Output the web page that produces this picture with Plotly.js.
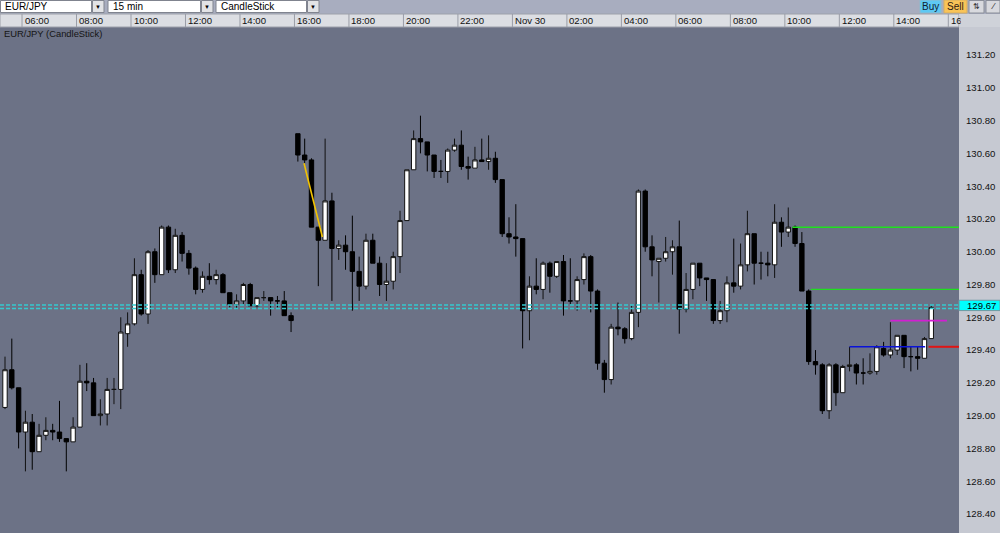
<!DOCTYPE html>
<html>
<head>
<meta charset="utf-8">
<script src="https://cdn.plot.ly/plotly-3.0.1.min.js"></script>
<style>
html,body{margin:0;padding:0;background:#a8adbf;overflow:hidden;}
#chart{width:1000px;height:533px;}
</style>
</head>
<body>
<div id="chart"></div>
<script>
// ---------------- data ----------------
const symbol = "EUR/JPY";
const intervalName = "15 min";
const chartType = "CandleStick";

const openP = [129.05,129.28,129.17,128.90,128.96,128.78,128.88,128.91,128.90,128.86,
128.84,128.93,129.21,129.20,129.00,129.01,129.16,129.16,129.50,129.56,
129.86,129.62,130.00,129.86,130.15,129.89,130.10,129.99,129.90,129.77,
129.85,129.83,129.86,129.75,129.68,129.70,129.80,129.67,129.72,129.72,
129.70,129.70,129.61,130.72,130.59,130.56,130.15,130.07,130.31,130.02,
130.04,130.00,129.88,129.79,130.07,129.93,129.80,129.82,129.97,130.19,
130.50,130.69,130.67,130.59,130.49,130.49,130.62,130.65,130.52,130.51,
130.56,130.55,130.57,130.44,130.11,130.09,130.08,129.64,129.79,129.77,
129.93,129.85,129.94,129.70,129.70,129.83,129.97,129.76,129.32,129.22,
129.54,129.53,129.47,129.63,130.37,130.03,129.94,129.96,130.00,130.03,
129.65,129.77,129.93,129.84,129.83,129.58,129.64,129.81,129.79,129.92,
130.11,129.93,129.93,129.92,130.18,130.12,130.15,130.05,129.76,129.33,
129.31,129.03,129.31,129.14,129.30,129.31,129.26,129.26,129.27,129.41,
129.37,129.40,129.49,129.36,129.36,129.35,129.47];
const highP = [129.36,129.47,129.17,129.03,129.01,128.95,128.99,128.95,129.09,128.86,
128.99,129.31,129.32,129.23,129.10,129.23,129.23,129.60,129.63,129.96,
129.89,130.01,130.02,130.16,130.16,130.14,130.12,130.01,129.91,129.88,
129.93,129.89,129.87,129.75,129.74,129.81,129.81,129.72,129.76,129.72,
129.73,129.76,129.63,130.72,130.69,130.57,130.15,130.69,130.36,130.07,
130.10,130.22,129.97,130.11,130.11,129.97,129.93,130.00,130.25,130.50,
130.74,130.83,130.67,130.59,130.56,130.63,130.69,130.74,130.58,130.64,
130.69,130.71,130.61,130.44,130.21,130.29,130.08,129.85,129.96,129.94,
129.94,129.94,129.98,129.96,129.85,129.99,129.98,129.77,129.34,129.56,
129.69,129.54,129.67,130.38,130.38,130.10,129.96,130.09,130.07,130.19,
129.87,129.93,129.93,129.84,129.83,129.70,129.85,130.08,130.05,130.25,
130.11,130.00,130.00,130.29,130.21,130.27,130.16,130.12,129.77,129.40,
129.32,129.32,129.32,129.31,129.42,129.32,129.35,129.38,129.43,129.45,
129.57,129.49,129.49,129.42,129.42,129.48,129.67];
const lowP = [129.04,129.16,128.80,128.66,128.67,128.78,128.85,128.85,128.84,128.66,
128.84,128.93,129.15,129.00,128.94,128.94,129.07,129.04,129.42,129.55,
129.61,129.56,129.81,129.86,129.87,129.87,129.94,129.86,129.74,129.75,
129.80,129.80,129.75,129.66,129.65,129.68,129.67,129.66,129.70,129.61,
129.66,129.61,129.51,130.55,130.54,130.15,129.79,130.07,129.70,129.95,
129.89,129.64,129.70,129.77,129.93,129.73,129.70,129.77,129.87,130.19,
130.50,130.60,130.49,130.45,130.45,130.42,130.61,130.50,130.44,130.51,
130.55,130.50,130.42,130.09,130.05,129.97,129.41,129.46,129.74,129.71,
129.75,129.84,129.61,129.68,129.64,129.80,129.63,129.28,129.14,129.19,
129.49,129.44,129.46,129.54,130.00,129.85,129.69,129.94,129.86,129.50,
129.63,129.71,129.79,129.70,129.56,129.56,129.57,129.75,129.77,129.88,
129.80,129.83,129.85,129.84,130.03,130.09,130.03,129.76,129.31,129.25,
129.01,128.98,129.06,129.14,129.27,129.19,129.19,129.25,129.25,129.36,
129.35,129.37,129.29,129.27,129.28,129.35,129.47];
const closeP = [129.28,129.17,128.90,128.96,128.78,128.88,128.91,128.90,128.86,128.84,
128.93,129.21,129.20,129.00,129.01,129.16,129.16,129.51,129.56,129.86,
129.62,130.00,129.86,130.15,129.89,130.10,129.99,129.90,129.77,129.85,
129.83,129.86,129.75,129.68,129.70,129.80,129.67,129.72,129.72,129.70,
129.70,129.61,129.58,130.59,130.56,130.15,130.07,130.31,130.02,130.04,
130.00,129.88,129.79,130.07,129.93,129.80,129.82,129.97,130.19,130.50,
130.69,130.67,130.59,130.49,130.49,130.62,130.65,130.52,130.51,130.56,
130.55,130.57,130.44,130.11,130.09,130.08,129.64,129.79,129.77,129.93,
129.85,129.94,129.70,129.70,129.83,129.97,129.76,129.32,129.22,129.54,
129.53,129.47,129.63,130.37,130.03,129.95,129.96,130.00,130.03,129.65,
129.77,129.93,129.84,129.83,129.58,129.64,129.81,129.79,129.92,130.11,
129.93,129.93,129.92,130.18,130.12,130.15,130.05,129.76,129.33,129.31,
129.03,129.31,129.14,129.30,129.31,129.26,129.26,129.27,129.42,129.37,
129.40,129.49,129.36,129.36,129.35,129.47,129.66];

// time axis labels and the candle (bar number) each label period starts at
const timeLabels = ["06:00","08:00","10:00","12:00","14:00","16:00","18:00","20:00","22:00",
  "Nov 30","02:00","04:00","06:00","08:00","10:00","12:00","14:00","16:00"];
const timeLabelCandle = [3,11,19,27,35,43,51,59,67,75,83,91,99,107,115,123,131,139];

// price levels drawn on the chart
const bidPrice = 129.67;
const bidLinePrice = 129.675;
const askLinePrice = 129.653;
const levelNames  = ["green1","green2","magenta","blue","red"];
const levelPrices = [130.15, 129.77, 129.58, 129.42, 129.42];
const levelStartBar = [115.6, 118.3, 130.0, 124.0, 135.6];
const levelEndBar   = [null, null, 138.3, 135.1, null];   // null = to the right edge
const trendBars   = [43.9, 46.6];
const trendPrices = [130.54, 130.09];

// ---------------- styles ----------------
const levelStyle = {
  green1:  {color:'#1fe01f', width:1.5},
  green2:  {color:'#1fe01f', width:1.2},
  magenta: {color:'#d21fd2', width:1.8},
  blue:    {color:'#0a12d8', width:1.5},
  red:     {color:'#e01414', width:2}
};
const FONT = '"Liberation Sans", Arial, sans-serif';
const W = 1000, H = 533, MT = 27, MR = 41, PW = W - MR, PH = H - MT;
const xRange = [-0.734, 140.07];
const yRange = [128.284, 131.371];
const pxPerBar = PW / (xRange[1] - xRange[0]);
function px(x) { return x / PW; }              // pixel -> paper x
function py(y) { return 1 + (MT - y) / PH; }   // pixel -> paper y

const bars = openP.map((_, i) => i);

const traces = [];
traces.push({
  type: 'candlestick', x: bars, open: openP, high: highP, low: lowP, close: closeP,
  increasing: {line: {color: '#111111', width: 1}, fillcolor: '#ffffff'},
  decreasing: {line: {color: '#000000', width: 1}, fillcolor: '#000000'},
  whiskerwidth: 0, hoverinfo: 'skip', showlegend: false
});
// bid / ask dashed lines
[bidLinePrice, askLinePrice].forEach(p => traces.push({
  type: 'scatter', mode: 'lines', x: [xRange[0], xRange[1]], y: [p, p],
  line: {color: '#35c9cf', width: 1.5, dash: '4px,2px'}, hoverinfo: 'skip', showlegend: false
}));
levelNames.forEach((n, i) => traces.push({
  type: 'scatter', mode: 'lines',
  x: [levelStartBar[i], levelEndBar[i] === null ? xRange[1] : levelEndBar[i]],
  y: [levelPrices[i], levelPrices[i]],
  line: levelStyle[n], hoverinfo: 'skip', showlegend: false
}));
traces.push({
  type: 'scatter', mode: 'lines', x: trendBars, y: trendPrices,
  line: {color: '#f2c200', width: 1.6}, hoverinfo: 'skip', showlegend: false
});

// ---------------- chrome (toolbar, time bar, price label) ----------------
const shapes = [];
const annotations = [];
function rectPx(x0, y0, x1, y1, fill, line) {
  shapes.push({type: 'rect', xref: 'paper', yref: 'paper', x0: px(x0), x1: px(x1), y0: py(y1), y1: py(y0),
    fillcolor: fill, line: line ? {color: line, width: 1} : {width: 0}, layer: 'above'});
}
function textPx(x, y, text, size, color, anchor) {
  annotations.push({xref: 'paper', yref: 'paper', x: px(x), y: py(y), text: text, showarrow: false,
    xanchor: anchor || 'left', yanchor: 'middle', font: {family: FONT, size: size, color: color || '#000'}});
}
// toolbar
rectPx(0, 0, W, 14, '#a8adbf');
const dropDowns = [[symbol, 0.5, 91.5, 104], [intervalName, 108, 200.5, 213], [chartType, 216, 306.5, 319]];
dropDowns.forEach(d => {
  rectPx(d[1], 0.5, d[2], 12.5, '#ffffff', '#80848f');
  rectPx(d[2] + 1, 0.5, d[3], 12.5, '#e2e3e6', '#80848f');
  textPx(d[1] + 2.5, 6.8, d[0], 10, '#000');
  textPx((d[2] + 1 + d[3]) / 2, 6.8, '▼', 6, '#000', 'center');
});
rectPx(920, 0, 941, 13, '#5ec8f3', '#8fb8cc');
textPx(930.5, 6.8, 'Buy', 10, '#102030', 'center');
rectPx(944, 0, 967, 13, '#f9c458', '#d6ad60');
textPx(955.5, 6.8, 'Sell', 10, '#302010', 'center');
rectPx(969, 0.5, 984, 13, '#d8d9de', '#8a8e99');
textPx(976.5, 6.5, '⇅', 8, '#333', 'center');
rectPx(986, 0.5, 1000, 13, '#d8d9de', '#8a8e99');
textPx(993, 6.5, '⁄', 9, '#222', 'center');
// time bar
rectPx(0, 14, PW, 27, '#dcdee3', '#9da0aa');
rectPx(PW, 14, W, 27, '#cfd2d9');
timeLabels.forEach((t, i) => {
  const b = timeLabelCandle[i] - 0.5;
  shapes.push({type: 'line', xref: 'x', yref: 'paper', x0: b, x1: b, y0: py(27), y1: py(14),
    line: {color: '#9a9da7', width: 1}, layer: 'above'});
  const room = (xRange[1] - b) * pxPerBar - 1;
  const a = {xref: 'x', yref: 'paper', x: b, y: py(20.8), text: t, showarrow: false,
    xanchor: 'left', yanchor: 'middle', xshift: 0.5, align: 'left',
    font: {family: FONT, size: 9.6, color: '#111'}};
  if (room < 30) a.width = room;
  annotations.push(a);
});
// caption
textPx(2, 33, symbol + ' (' + chartType + ')', 9.4, '#151515');
// current price label
shapes.push({type: 'rect', xref: 'paper', yref: 'y', x0: 1.0, x1: px(W), y0: bidLinePrice - 0.034, y1: bidLinePrice + 0.029,
  fillcolor: '#00ffff', line: {color: '#6e9aa3', width: 1}, layer: 'above'});
annotations.push({xref: 'paper', yref: 'y', x: px(965), y: bidLinePrice, text: bidPrice.toFixed(2), showarrow: false,
  xanchor: 'left', yanchor: 'middle', font: {family: FONT, size: 9.6, color: '#000'}});

const layout = {
  width: W, height: H,
  margin: {l: 0, r: MR, t: MT, b: 0, pad: 0},
  paper_bgcolor: '#c6c9d2',
  plot_bgcolor: '#6c7286',
  showlegend: false,
  boxgap: 0.36, boxgroupgap: 0,
  xaxis: {range: xRange, showgrid: false, zeroline: false, showticklabels: false, ticks: '',
    showline: false, fixedrange: true, rangeslider: {visible: false}},
  yaxis: {range: yRange, side: 'right', dtick: 0.2, tick0: 0, tickformat: '.2f', showgrid: false,
    zeroline: false, showline: false, ticks: '', ticklabelstandoff: 6, fixedrange: true,
    tickfont: {family: FONT, size: 9.6, color: '#111'}},
  shapes: shapes,
  annotations: annotations
};

Plotly.newPlot('chart', traces, layout, {staticPlot: true, displayModeBar: false});
</script>
</body>
</html>
